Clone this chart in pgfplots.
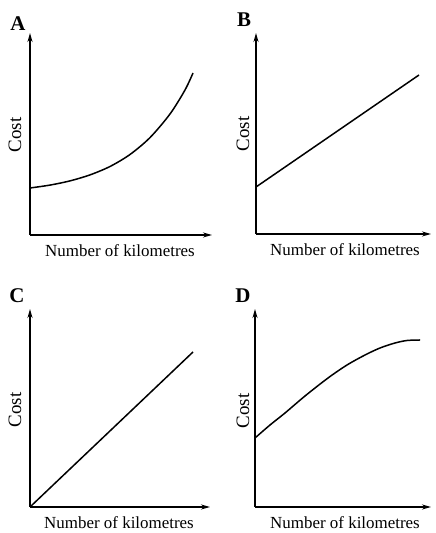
\documentclass[border=0pt]{standalone}
\usepackage{pgfplots}
\pgfplotsset{compat=1.18}
\usepackage{fontspec}
\setmainfont{Liberation Serif}
\usetikzlibrary{arrows.meta}
\pgfplotsset{
  panel/.style={
    scale only axis, axis lines=left, enlargelimits=false,
    xmin=0, ymin=0, xtick=\empty, ytick=\empty, clip=false,
    axis line style={line width=1.4bp, -{Stealth[length=9bp,width=5bp]}},
    anchor=south west,
  },
  curve/.style={black, line width=1.5bp, no markers},
}
\newcommand{\lab}{\fontsize{17}{19}\selectfont}
\newcommand{\costf}{\fontsize{19}{21}\selectfont}
\newcommand{\biglet}{\fontsize{21}{23}\selectfont\bfseries}
\begin{document}
\begin{tikzpicture}[x=1bp,y=1bp]
\useasboundingbox (0,0) rectangle (436,533);
% A
\begin{axis}[panel, at={(30bp,298bp)}, width=182bp, height=202bp, xmax=182, ymax=202]
\addplot[curve, smooth] coordinates {(0,47) (20,49.9) (40,54.1) (60,60.1) (80,68.5) (100,80.5) (120,97.4) (140,121) (155,145) (163,162)};
\node[font=\biglet] at (axis cs:-12,211) {A};
\node[font=\costf, rotate=90] at (axis cs:-15,100) {Cost};
\node[font=\lab] at (axis cs:90,-16) {Number of kilometres};
\end{axis}
% B
\begin{axis}[panel, at={(256bp,299bp)}, width=175bp, height=201bp, xmax=175, ymax=201]
\addplot[curve] coordinates {(0,47) (163,159)};
\node[font=\biglet] at (axis cs:-12,214) {B};
\node[font=\costf, rotate=90] at (axis cs:-13,100) {Cost};
\node[font=\lab] at (axis cs:89,-16) {Number of kilometres};
\end{axis}
% C
\begin{axis}[panel, at={(30bp,26bp)}, width=180bp, height=198bp, xmax=180, ymax=198]
\addplot[curve] coordinates {(0,0) (163,155)};
\node[font=\biglet] at (axis cs:-13,211) {C};
\node[font=\costf, rotate=90] at (axis cs:-15,97) {Cost};
\node[font=\lab] at (axis cs:89,-16) {Number of kilometres};
\end{axis}
% D
\begin{axis}[panel, at={(255bp,26bp)}, width=176bp, height=198bp, xmax=176, ymax=198]
\addplot[curve, smooth] coordinates {(0,69) (15,82) (30,94) (50,111) (73,129) (92,142) (110,152) (125,159) (140,164) (152,166.5) (165,167)};
\node[font=\biglet] at (axis cs:-12,211) {D};
\node[font=\costf, rotate=90] at (axis cs:-12,96) {Cost};
\node[font=\lab] at (axis cs:90,-16) {Number of kilometres};
\end{axis}
\end{tikzpicture}
\end{document}
